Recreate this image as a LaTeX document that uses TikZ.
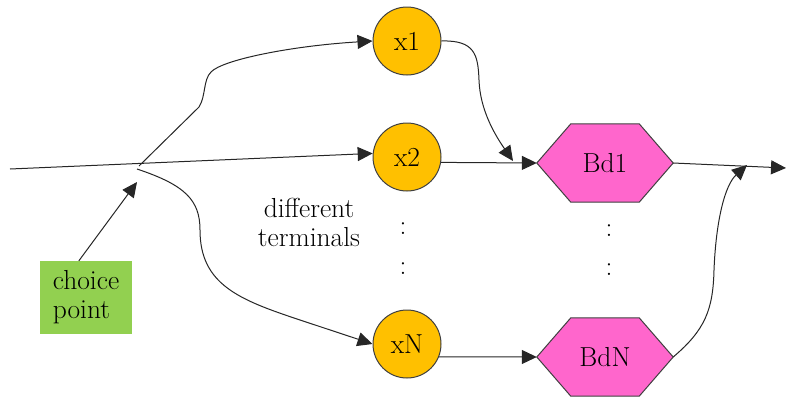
\documentclass[tikz,border=0pt]{standalone}
\usetikzlibrary{arrows.meta,backgrounds,calc}
\definecolor{termfill}{HTML}{FFC000}
\definecolor{hexfill}{HTML}{FF66CC}
\definecolor{choicefill}{HTML}{92D050}
\definecolor{edge}{HTML}{404040}
\begin{document}
\begin{tikzpicture}[x=1pt,y=-1pt,
  every node/.style={font=\rmfamily\fontsize{27.5}{29}\selectfont},
  term/.style={circle,draw=edge,fill=termfill,minimum size=68pt,inner sep=0pt,line width=1pt},
  hexbox/.style={minimum width=136pt,minimum height=78pt,inner sep=0pt},
  hexline/.style={draw=edge,fill=hexfill,line width=1pt},
  choicebox/.style={fill=choicefill,minimum width=92pt,minimum height=73pt,align=left,inner sep=0pt},
  conn/.style={line width=1pt,draw=black!85,-{Triangle[length=15pt,width=14pt]}}
]
\useasboundingbox (0,0) rectangle (786,397);

% terminal circles
\node[term] (x1) at (407,41) {x1};
\node[term] (x2) at (407,157) {x2};
\node[term] (xN) at (407,344) {xN};

% hexagon placeholders (outline drawn on the background layer)
\node[hexbox] (Bd1) at (605,163) {Bd1};
\node[hexbox] (BdN) at (605,357) {BdN};
\begin{pgfonlayer}{background}
  \foreach \h in {Bd1,BdN}
    \draw[hexline] (\h.west) -- ($(\h.north west)+(34,0)$) -- ($(\h.north east)+(-34,0)$)
      -- (\h.east) -- ($(\h.south east)+(-34,0)$) -- ($(\h.south west)+(34,0)$) -- cycle;
\end{pgfonlayer}

% choice point box
\node[choicebox] (choice) at (86,297.5) {choice\\point};

% labels and ellipsis marks
\node[align=center] (diff) at (309,222) {different\\terminals};
\node (c1) at (403,229) {:};
\node (c2) at (403,269) {:};
\node (c3) at (609,231) {:};
\node (c4) at (609,270) {:};

% free ends of connectors
\coordinate (in) at (10,169);
\coordinate (cpu) at (139,166);
\coordinate (cpl) at (137,169);
\coordinate (cpt) at (137,182);
\coordinate (j1) at (513,161);
\coordinate (jn) at (747,165);
\coordinate (out) at (786,168);

% input line and the three branches
\draw[conn] (in) -- (x2.174);
\draw[conn] (cpu) -- (199,107) .. controls (206,96) and (203,80) .. (211,72)
  .. controls (222,60) and (290,46) .. (x1.west);
\draw[conn] (cpl) .. controls (185,185) and (200,200) .. (200,230)
  .. controls (200,285) and (240,300) .. (300,320) -- (xN.west);

% choice point pointer
\draw[conn] (choice.101) -- (cpt);

% terminals to Bd nodes
\draw[conn] (x1.east) .. controls (475,40) and (478,55) .. (479,80)
  .. controls (480,110) and (495,135) .. (j1);
\draw[conn] (x2.-9) -- (Bd1.west);
\draw[conn] (xN.-22) -- (BdN.west);

% outputs
\draw[conn] (Bd1.east) -- (out);
\draw[conn] (BdN.east) .. controls (705,330) and (713,310) .. (714,270)
  .. controls (716,220) and (725,185) .. (jn);
\end{tikzpicture}
\end{document}
